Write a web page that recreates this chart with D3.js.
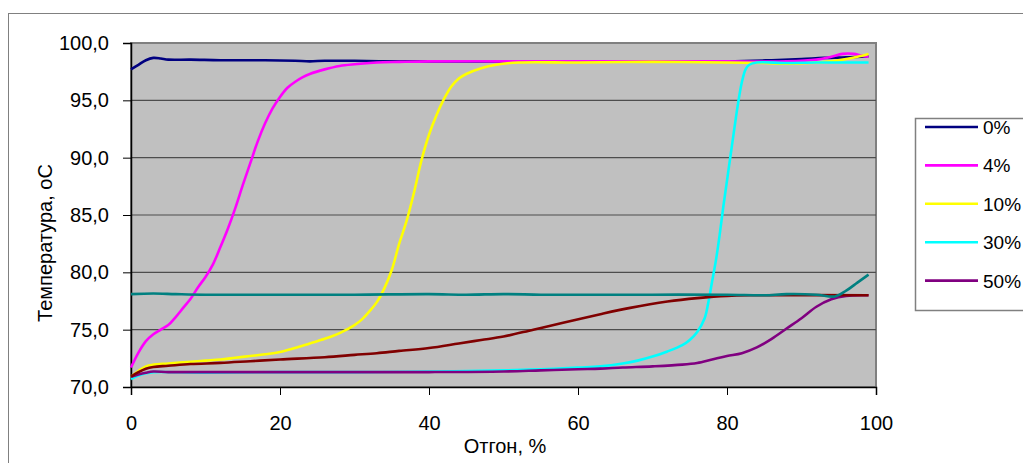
<!DOCTYPE html>
<html>
<head>
<meta charset="utf-8">
<script src="https://cdn.jsdelivr.net/npm/d3@7"></script>
<style>
  body { margin: 0; background: #fff; }
  svg { display: block; font-family: "Liberation Sans", Arial, sans-serif; }
</style>
</head>
<body>
<div id="chart"></div>
<script>
// series names shown in the legend
var legendNames = ["0%", "4%", "10%", "30%", "50%"];

// [отгон %, температура] per series
var s0 = [[0,97.7],[1,98.1],[2,98.5],[3,98.7],[4,98.65],[5,98.55],[8,98.55],[12,98.5],[18,98.5],[22,98.45],[24,98.4],[26,98.45],[30,98.45],[35,98.4],[40,98.4],[60,98.4],[80,98.4],[86,98.5],[90,98.6],[93,98.7],[96,98.75],[99,98.85]];
var s4 = [[0,71.7],[1,73.0],[2,74.0],[3,74.6],[4,75.0],[5,75.4],[6,76.1],[7,76.9],[8,77.7],[9,78.7],[10,79.6],[11,80.7],[12,82.2],[13,83.8],[14,85.6],[15,87.6],[16,89.5],[17,91.4],[18,93.0],[19,94.3],[20,95.3],[21,96.1],[22,96.6],[23,97.0],[24,97.3],[26,97.7],[28,98.0],[30,98.15],[33,98.3],[36,98.35],[40,98.4],[50,98.4],[60,98.4],[70,98.4],[80,98.4],[88,98.4],[92,98.55],[94,98.8],[95.5,99.05],[97,99.05],[98,98.9],[99,98.8]];
var s10 = [[0,70.9],[1,71.4],[2,71.8],[3,71.95],[5,72.05],[8,72.2],[10,72.3],[12,72.4],[14,72.55],[16,72.7],[18,72.85],[20,73.05],[22,73.4],[24,73.8],[26,74.2],[28,74.7],[30,75.4],[31,75.9],[32,76.6],[33,77.4],[34,78.6],[35,80.2],[36,82.5],[37,84.5],[38,87.0],[39,89.8],[40,92.0],[41,93.7],[42,95.1],[43,96.2],[44,96.9],[45,97.3],[47,97.8],[49,98.1],[52,98.3],[60,98.3],[70,98.35],[80,98.3],[85,98.25],[88,98.2],[91,98.25],[94,98.4],[96,98.6],[97.5,98.8],[99,99.05]];
var s30 = [[0,70.7],[1,71.0],[2,71.2],[3,71.3],[10,71.25],[20,71.3],[30,71.3],[40,71.35],[50,71.45],[55,71.55],[60,71.7],[63,71.8],[66,72.05],[68,72.3],[70,72.65],[72,73.1],[74,73.65],[75,74.1],[76,74.8],[77,76.0],[77.5,77.4],[78,79.2],[78.5,81.0],[79,83.2],[79.5,85.7],[80,88.0],[80.5,90.3],[81,92.6],[81.5,94.8],[82,96.6],[82.5,97.7],[83,98.1],[84,98.3],[88,98.25],[92,98.3],[99,98.3]];
var s50 = [[0,70.9],[1,71.1],[2,71.25],[3,71.35],[5,71.3],[10,71.3],[20,71.3],[30,71.3],[40,71.3],[50,71.35],[55,71.45],[60,71.55],[63,71.6],[66,71.7],[70,71.8],[74,71.95],[76,72.1],[78,72.4],[80,72.7],[82,72.95],[84,73.45],[86,74.2],[88,75.1],[90,76.0],[92,77.0],[94,77.65],[96,77.95],[99,78.0]];
var sMaroon = [[0,70.9],[1,71.3],[2,71.6],[3,71.75],[5,71.85],[8,72.0],[12,72.1],[16,72.25],[20,72.4],[26,72.6],[30,72.8],[33,72.95],[36,73.15],[40,73.4],[44,73.8],[47,74.1],[50,74.4],[54,75.0],[58,75.6],[63,76.35],[67,76.9],[72,77.45],[76,77.75],[80,77.95],[84,78.0],[99,78.0]];
var sTeal = [[0,78.1],[3,78.15],[6,78.1],[10,78.05],[20,78.05],[30,78.05],[40,78.1],[45,78.05],[50,78.1],[55,78.05],[60,78.05],[70,78.05],[80,78.05],[85,78.0],[88,78.1],[92,78.05],[94.5,77.9],[96,78.4],[97.5,79.1],[99,79.8]];

var yTicks = [70, 75, 80, 85, 90, 95, 100];
var xTicks = [0, 20, 40, 60, 80, 100];

var series = [
  { data: s0, color: "#000080" },
  { data: s4, color: "#ff00ff" },
  { data: s10, color: "#ffff00" },
  { data: s30, color: "#00ffff" },
  { data: s50, color: "#800080" },
  { data: sMaroon, color: "#800000" },
  { data: sTeal, color: "#008080" }
];

var w = 1023, h = 463;
var svg = d3.select("#chart").append("svg")
  .attr("width", w)
  .attr("height", h);

// outer chart border
svg.append("rect")
  .attr("x", 8.5).attr("y", 13.5)
  .attr("width", w + 10).attr("height", h)
  .attr("fill", "none")
  .attr("stroke", "#808080")
  .attr("stroke-width", 1);

var x = d3.scaleLinear().domain([0, 100]).range([131, 876]);
var y = d3.scaleLinear().domain([70, 100]).range([387, 43]);

// plot area
svg.append("rect")
  .attr("x", x(0)).attr("y", y(100))
  .attr("width", x(100) - x(0)).attr("height", y(70) - y(100))
  .attr("fill", "#c0c0c0")
  .attr("stroke", "#808080")
  .attr("stroke-width", 2);

// grid
svg.append("g").selectAll("line")
  .data(yTicks.filter(function(d) { return d > 70 && d < 100; }))
  .enter().append("line")
  .attr("x1", x(0)).attr("x2", x(100))
  .attr("y1", function(d) { return y(d); })
  .attr("y2", function(d) { return y(d); })
  .attr("stroke", "#4d4d4d")
  .attr("stroke-width", 1.2);

// axes
var yAxis = svg.append("g")
  .attr("transform", "translate(" + x(0) + ",0)")
  .call(d3.axisLeft(y).tickValues(yTicks).tickSize(8).tickPadding(14)
    .tickFormat(function(d) { return d3.format(".1f")(d).replace(".", ","); }));

var xAxis = svg.append("g")
  .attr("transform", "translate(0," + y(70) + ")")
  .call(d3.axisBottom(x).tickValues(xTicks).tickSize(8).tickPadding(21));

[yAxis, xAxis].forEach(function(a) {
  a.select(".domain").attr("stroke", "#000").attr("stroke-width", 1.5);
  a.selectAll(".tick line").attr("stroke", "#000").attr("stroke-width", 1);
  a.selectAll("text").attr("font-size", "20px").attr("fill", "#000")
    .attr("font-family", "Liberation Sans, Arial, sans-serif");
});

// axis titles
svg.append("text")
  .attr("transform", "translate(52,243) rotate(-90)")
  .attr("text-anchor", "middle")
  .attr("font-size", "20px")
  .text("Температура, оС");

svg.append("text")
  .attr("x", 505).attr("y", 453)
  .attr("text-anchor", "middle")
  .attr("font-size", "20px")
  .text("Отгон, %");

// lines
var line = d3.line()
  .x(function(d) { return x(d[0]); })
  .y(function(d) { return y(d[1]); })
  .curve(d3.curveCatmullRom.alpha(0.5));

svg.append("g").selectAll("path")
  .data(series)
  .enter().append("path")
  .attr("d", function(d) { return line(d.data); })
  .attr("fill", "none")
  .attr("stroke", function(d) { return d.color; })
  .attr("stroke-width", 2.6)
  .attr("stroke-linejoin", "round");

// legend
var legend = svg.append("g");
legend.append("rect")
  .attr("x", 915.5).attr("y", 118.5)
  .attr("width", 130).attr("height", 192)
  .attr("fill", "#fff")
  .attr("stroke", "#808080")
  .attr("stroke-width", 1.5);

var item = legend.selectAll(".item")
  .data(legendNames)
  .enter().append("g")
  .attr("class", "item")
  .attr("transform", function(d, i) { return "translate(0," + (127 + i * 38.4) + ")"; });

item.append("line")
  .attr("x1", 925).attr("x2", 978)
  .attr("stroke", function(d, i) { return series[i].color; })
  .attr("stroke-width", 2.6);

item.append("text")
  .attr("x", 983).attr("y", 7)
  .attr("font-size", "19px")
  .text(function(d) { return d; });
</script>
</body>
</html>
